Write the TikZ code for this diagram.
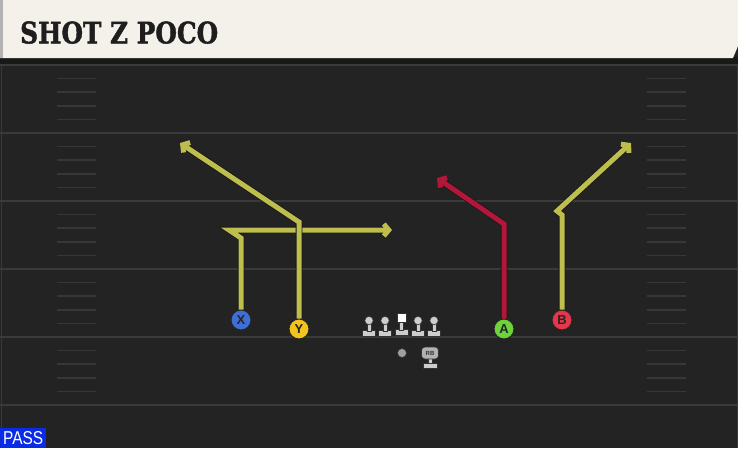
\documentclass[tikz,border=0pt]{standalone}
\usepackage{fontspec}
\usepackage{graphicx}
\usetikzlibrary{arrows.meta,positioning,calc}

\newfontfamily\titlefont{DejaVu Serif}[BoldFeatures={FakeBold=1.6}]
\newfontfamily\labelfont{Liberation Sans}

\definecolor{field}{HTML}{232323}
\definecolor{fieldline}{HTML}{3A3A3A}
\definecolor{hashc}{HTML}{373737}
\definecolor{headerc}{HTML}{F4F1EA}
\definecolor{titlec}{HTML}{1E1E1E}
\definecolor{routey}{HTML}{BEBE4E}
\definecolor{router}{HTML}{B4163A}
\definecolor{xblue}{HTML}{3F6ED6}
\definecolor{yyellow}{HTML}{F3C41C}
\definecolor{agreen}{HTML}{6CD43A}
\definecolor{bred}{HTML}{E6374A}
\definecolor{passblue}{HTML}{0B2BE4}
\definecolor{linemanc}{HTML}{CDCDCD}

\begin{document}
\begin{tikzpicture}[x=1pt,y=-1pt,
  player/.style={circle,draw=black!85,line width=1pt,minimum size=20pt,inner sep=0pt,
    font=\labelfont\bfseries\fontsize{13}{13}\selectfont,text=black!85},
  route/.style={line width=5pt,line join=miter,-{Straight Barb[length=5pt,width=12pt]},
    preaction={draw=black!90,line width=6.6pt}},
  hash/.style={hashc,line width=1.6pt},
  lineman/.style={linemanc,draw=black!80,line width=0.6pt}]

  \useasboundingbox (0,0) rectangle (738,448);
  \fill[field] (0,0) rectangle (738,448);

  % yard lines and hash marks
  \foreach \y in {65,133,201,269,337,405}
    \draw[fieldline,line width=2pt] (0,\y) -- (738,\y);
  \foreach \b in {65,133,201,269,337}
    \foreach \k in {1,...,4} {
      \draw[hash] (57,\b+13.6*\k) -- (96,\b+13.6*\k);
      \draw[hash] (647,\b+13.6*\k) -- (686,\b+13.6*\k);
    }
  \draw[fieldline,line width=1pt] (1,64) -- (1,448);
  \draw[fieldline,line width=1pt] (737,64) -- (737,448);

  % header
  \fill[black!90] (0,57) rectangle (738,64);
  \fill[headerc] (0,0) -- (738,0) -- (738,46) -- (733,58) -- (0,58) -- cycle;
  \fill[gray!60] (0,0) rectangle (2.5,58);
  \node[anchor=south west,inner sep=0pt,text=titlec] (title) at (20,44)
    {\resizebox{198pt}{22pt}{\titlefont\bfseries SHOT Z POCO}};

  % receivers
  \node[player,fill=xblue] (X) at (241,320) {X};
  \node[player,fill=yyellow] (Y) at (299,329) {Y};
  \node[player,fill=agreen] (A) at (504,329) {A};
  \node[player,fill=bred] (B) at (562,320) {B};

  % routes
  \coordinate (xup) at (241,238);
  \coordinate (xcut) at (229,230);
  \coordinate (xend) at (392,230);
  \draw[route,routey] (X) -- (xup) -- (xcut) -- (xend);

  \coordinate (ybreak) at (299,222);
  \coordinate (yend) at (180,143);
  \draw[route,routey] (Y) -- (ybreak) -- (yend);

  \coordinate (abreak) at (504,224);
  \coordinate (aend) at (437,178);
  \draw[route,router] (A) -- (abreak) -- (aend);

  \coordinate (bup) at (562,215);
  \coordinate (bcut) at (557,211);
  \coordinate (bend) at (631,143);
  \draw[route,routey] (B) -- (bup) -- (bcut) -- (bend);

  % offensive line
  \foreach \lx in {369,385,418,434} {
    \filldraw[lineman] (\lx-6.5,330.5) rectangle (\lx+6.5,336);
    \filldraw[lineman] (\lx-2.2,322) rectangle (\lx+2.2,331);
    \filldraw[lineman] (\lx,320.5) circle (4.2);
  }
  \filldraw[lineman] (395,329.5) rectangle (408,335);
  \filldraw[lineman] (399.3,321) rectangle (403.7,330);
  \filldraw[white,draw=black!80,line width=0.6pt] (397,313) rectangle (406.5,322.5);

  % ball and running back
  \filldraw[gray!75,draw=black!80,line width=0.6pt] (402,353) circle (4.5);
  \filldraw[lineman] (423.5,363) rectangle (437,368.5);
  \filldraw[lineman] (428.1,358) rectangle (432.5,363.5);
  \node[fill=gray!60,draw=black!80,line width=0.6pt,rounded corners=3.5pt,inner sep=0pt,
    minimum width=17pt,minimum height=12pt,text=black!80,
    font=\labelfont\bfseries\fontsize{6}{6}\selectfont] (rb) at (430,353) {RB};

  % play type tag
  \fill[passblue] (0,428) rectangle (46,448);
  \node[anchor=south west,inner sep=0pt,text=white] (pass) at (3,445)
    {\resizebox{40pt}{13pt}{\labelfont PASS}};
\end{tikzpicture}
\end{document}
